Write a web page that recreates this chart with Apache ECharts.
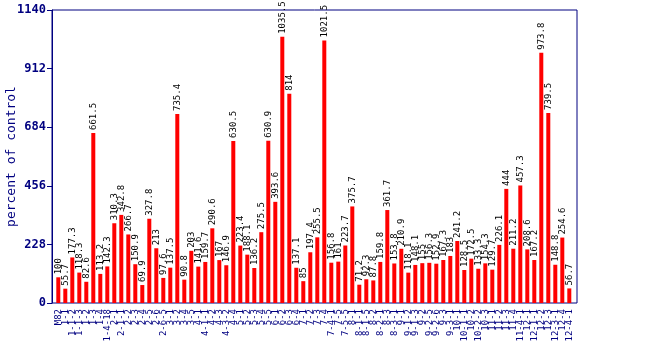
<!DOCTYPE html>
<html><head><meta charset="utf-8">
<script src="https://cdn.jsdelivr.net/npm/echarts@6/dist/echarts.min.js"></script>
<style>html,body{margin:0;padding:0;background:#fff}#c{width:650px;height:350px}</style>
</head><body><div id="c"></div>
<script>
var categories = ["M82","1-1","1-1-2","1-1-3","1-2","1-3","1-4","1-4-18",
"2-1","2-1-1","2-2","2-3","2-4","2-5","2-6","2-6-5",
"3-1","3-2","3-4","3-5",
"4-1","4-1-1","4-2","4-3","4-3-2","4-4",
"5-1","5-2","5-3","5-4","5-5",
"6-1","6-2","6-3","6-4",
"7-1","7-2","7-3","7-4","7-4-1","7-5","7-5-5",
"8-1","8-1-1","8-1-5","8-2","8-2-1","8-3","8-3-1",
"9-1","9-1-2","9-1-3","9-2","9-2-5","9-2-6","9-3","9-3-1",
"10-1","10-1-1","10-2","10-2-2","10-3",
"11-1","11-2","11-3","11-4","11-4-1",
"12-1","12-1-1","12-2","12-3","12-3-1","12-4","12-4-1"];
var values = [100,55.7,177.3,118.3,82.6,661.5,113.2,142.3,
310.3,342.8,266.7,150.9,69.9,327.8,213,97.6,
137.5,735.4,90.8,203,
141.6,159.7,290.6,167,146.9,630.5,
223.4,188.1,136.2,275.5,630.9,
393.6,1035.5,814,137.1,
85,197.4,255.5,1021.5,156.8,161,223.7,
375.7,71.2,92.3,87.8,159.8,361.7,153.8,
210.9,118.1,148.1,155,156.3,152.9,167.3,183,
241.2,128.5,172.5,133.3,154.3,
129.7,226.1,444,211.2,457.3,
208.6,167.2,973.8,739.5,148.8,254.6,56.7];
var yTicks = [0,228,456,684,912,1140];

var navy = '#000080';
var mono = '"DejaVu Sans Mono","Liberation Mono",monospace';
var chart = echarts.init(document.getElementById('c'), null, {renderer:'canvas'});
chart.setOption({
  animation:false,
  grid:[
    {left:52, top:10, width:525, height:293, outerBoundsMode:'none', containLabel:false, show:true, borderColor:navy, borderWidth:1, backgroundColor:'transparent'},
    {left:54.8, top:10, width:518, height:293, outerBoundsMode:'none', containLabel:false}
  ],
  xAxis:[
    {gridIndex:0, type:'value', show:false, min:0, max:1},
    {gridIndex:1, type:'category', data:categories, boundaryGap:true,
     axisLine:{show:false}, axisTick:{show:false},
     axisLabel:{interval:0, rotate:90, margin:6, fontSize:9, color:navy, fontFamily:mono}}
  ],
  yAxis:[
    {gridIndex:0, type:'value', show:false, min:0, max:1140},
    {gridIndex:1, type:'value', min:yTicks[0], max:yTicks[yTicks.length-1], interval:228, offset:2.8,
     name:'percent of control', nameLocation:'middle', nameGap:34, nameRotate:90, nameMoveOverlap:false,
     nameTextStyle:{fontSize:13, color:navy, fontFamily:mono},
     axisLine:{show:true, lineStyle:{color:navy}},
     axisTick:{show:true, length:5, lineStyle:{color:navy}},
     splitLine:{show:false},
     axisLabel:{fontSize:12, fontWeight:'bold', color:navy, fontFamily:mono, margin:6,
       formatter:function(v){return String(v);}}}
  ],
  series:[{
    type:'bar', xAxisIndex:1, yAxisIndex:1, data:values, barWidth:4,
    itemStyle:{color:'#ff0000'},
    label:{show:true, position:'top', rotate:90, align:'left', verticalAlign:'middle', distance:3,
      fontSize:9, color:'#000', fontFamily:mono}
  }]
});
</script></body></html>
